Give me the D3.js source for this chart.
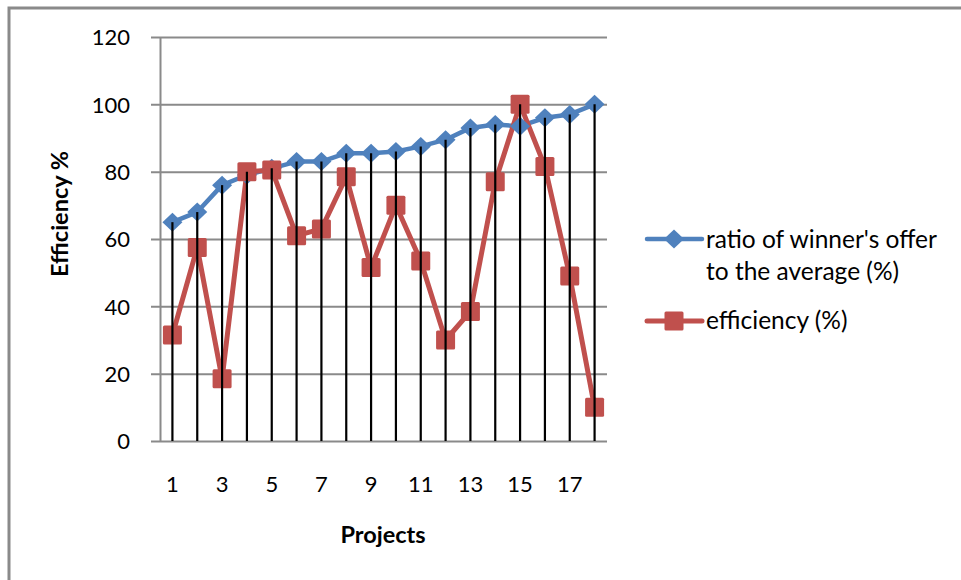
<!DOCTYPE html>
<html>
<head>
<meta charset="utf-8">
<script src="https://cdn.jsdelivr.net/npm/d3@7"></script>
<style>
  html, body { margin: 0; padding: 0; background: #fff; }
  svg { display: block; }
  text { font-family: Lato, "Open Sans", sans-serif; fill: #000; }
</style>
</head>
<body>
<svg id="chart" width="961" height="580"></svg>
<script>
// Projects 1..18
const projects = d3.range(1, 19);
// ratio of winner's offer to the average (%)
const ratioValues = [65, 68, 76, 79, 81, 83, 83, 85.5, 85.5, 86, 87.5, 89.5, 93, 94, 93.5, 96, 97, 100];
// efficiency (%)
const efficiencyValues = [31.5, 57.5, 18.5, 80, 80.5, 61, 63, 78.5, 51.5, 70, 53.5, 30, 38.5, 77, 100, 81.5, 49, 10];
const yTicks = [0, 20, 40, 60, 80, 100, 120];
const xTickLabels = [1, 3, 5, 7, 9, 11, 13, 15, 17];
const seriesNames = ["ratio of winner's offer", "to the average (%)", "efficiency (%)"];

const BLUE = "#4F81BD", RED = "#C0504D", GRID = "#8a8a8a";
const TICK_FONT = 22, LEGEND_FONT = 24.5, TITLE_FONT = 23.5;

const svg = d3.select("#chart");

// outer chart border (only top and left edges fall inside the frame)
svg.append("rect")
  .attr("x", 9).attr("y", 8).attr("width", 1000).attr("height", 1000)
  .attr("fill", "none").attr("stroke", "#8a8a8a").attr("stroke-width", 3);

const plotLeft = 160, plotRight = 607, plotTop = 37, plotBottom = 441;
const x = d3.scaleBand().domain(projects).range([plotLeft, plotRight]);
const y = d3.scaleLinear().domain([0, 120]).range([plotBottom, plotTop]);
const cx = d => x(d) + x.bandwidth() / 2;

// value axis with gridlines
const yAxis = svg.append("g")
  .attr("transform", `translate(${plotLeft},0)`)
  .call(d3.axisLeft(y).tickValues(yTicks).tickSizeOuter(0).tickPadding(24));
yAxis.select(".domain").attr("stroke", GRID).attr("stroke-width", 2);
yAxis.selectAll(".tick line")
  .attr("x1", -9).attr("x2", plotRight - plotLeft)
  .attr("stroke", GRID).attr("stroke-width", 2);
yAxis.selectAll(".tick text")
  .attr("font-size", TICK_FONT).attr("font-family", "Lato, sans-serif").attr("dy", "0.36em");

// category axis labels
const xAxis = svg.append("g")
  .attr("transform", `translate(0,${plotBottom})`)
  .call(d3.axisBottom(x).tickValues(xTickLabels).tickSize(0).tickPadding(35));
xAxis.select(".domain").remove();
xAxis.selectAll(".tick text").attr("font-size", TICK_FONT).attr("font-family", "Lato, sans-serif");

// series lines
const line = vals => d3.line().x((d, i) => cx(projects[i])).y(d => y(d))(vals);
svg.append("path").attr("d", line(ratioValues))
  .attr("fill", "none").attr("stroke", BLUE).attr("stroke-width", 4.5).attr("stroke-linejoin", "round");
svg.append("path").attr("d", line(efficiencyValues))
  .attr("fill", "none").attr("stroke", RED).attr("stroke-width", 5).attr("stroke-linejoin", "round");

const diamond = "M0,-9.5L10,0L0,9.5L-10,0Z";
svg.append("g").selectAll("path").data(ratioValues).join("path")
  .attr("d", diamond)
  .attr("transform", (d, i) => `translate(${cx(projects[i])},${y(d)})`)
  .attr("fill", BLUE);

svg.append("g").selectAll("rect").data(efficiencyValues).join("rect")
  .attr("x", (d, i) => cx(projects[i]) - 9.5)
  .attr("y", d => y(d) - 9.5)
  .attr("width", 19).attr("height", 19).attr("rx", 1.5)
  .attr("fill", RED);

// drop lines from the highest point of each project down to the axis
svg.append("g").selectAll("line").data(projects).join("line")
  .attr("x1", d => cx(d)).attr("x2", d => cx(d))
  .attr("y1", (d, i) => y(Math.max(ratioValues[i], efficiencyValues[i])))
  .attr("y2", plotBottom)
  .attr("stroke", "#000").attr("stroke-width", 2.2);

// axis titles
svg.append("text")
  .attr("transform", "translate(68,214) rotate(-90)")
  .attr("text-anchor", "middle")
  .attr("font-size", TITLE_FONT).attr("font-weight", "bold")
  .text("Efficiency %");
svg.append("text")
  .attr("x", 383).attr("y", 543)
  .attr("text-anchor", "middle")
  .attr("font-size", TITLE_FONT).attr("font-weight", "bold")
  .text("Projects");

// legend
const legend = svg.append("g");
legend.append("line").attr("x1", 647).attr("x2", 702).attr("y1", 239).attr("y2", 239)
  .attr("stroke", BLUE).attr("stroke-width", 4.5).attr("stroke-linecap", "round");
legend.append("path").attr("d", diamond).attr("transform", "translate(674,239)").attr("fill", BLUE);
legend.append("text").attr("x", 706).attr("y", 248).attr("font-size", LEGEND_FONT).text(seriesNames[0]);
legend.append("text").attr("x", 706).attr("y", 280).attr("font-size", LEGEND_FONT).text(seriesNames[1]);

legend.append("line").attr("x1", 647).attr("x2", 702).attr("y1", 321).attr("y2", 321)
  .attr("stroke", RED).attr("stroke-width", 5).attr("stroke-linecap", "round");
legend.append("rect").attr("x", 664.5).attr("y", 311.5).attr("width", 19).attr("height", 19)
  .attr("rx", 1.5).attr("fill", RED);
legend.append("text").attr("x", 706).attr("y", 329).attr("font-size", LEGEND_FONT).text(seriesNames[2]);
</script>
</body>
</html>
